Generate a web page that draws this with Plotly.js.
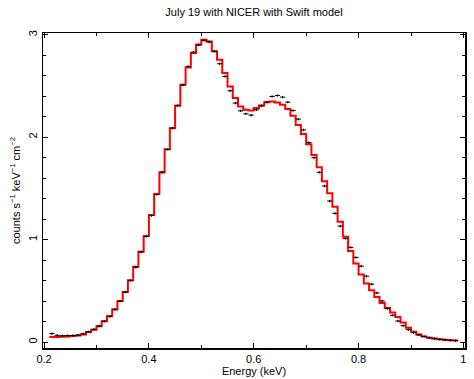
<!DOCTYPE html>
<html>
<head>
<meta charset="utf-8">
<script src="https://cdn.plot.ly/plotly-3.0.1.min.js"></script>
<style>
  html, body { margin: 0; padding: 0; background: #fff; }
  #chart { width: 474px; height: 379px; }
</style>
</head>
<body>
<div id="chart"></div>
<script>
// Bin centres (keV), bin half width
var energy = [0.215,0.225,0.235,0.245,0.255,0.265,0.275,0.285,0.295,0.305,
  0.315,0.325,0.335,0.345,0.355,0.365,0.375,0.385,0.395,0.405,
  0.415,0.425,0.435,0.445,0.455,0.465,0.475,0.485,0.495,0.505,
  0.515,0.525,0.535,0.545,0.555,0.565,0.575,0.585,0.595,0.605,
  0.615,0.625,0.635,0.645,0.655,0.665,0.675,0.685,0.695,0.705,
  0.715,0.725,0.735,0.745,0.755,0.765,0.775,0.785,0.795,0.805,
  0.815,0.825,0.835,0.845,0.855,0.865,0.875,0.885,0.895,0.905,
  0.915,0.925,0.935,0.945,0.955,0.965,0.975,0.985];
var binHalfWidth = 0.005;

// Observed counts s^-1 keV^-1 cm^-2
var dataCounts = [0.082,0.066,0.062,0.063,0.064,0.068,0.080,0.100,0.124,0.156,
  0.203,0.252,0.320,0.398,0.488,0.600,0.730,0.880,1.030,1.235,
  1.440,1.660,1.880,2.090,2.310,2.510,2.690,2.830,2.900,2.945,
  2.930,2.838,2.717,2.593,2.453,2.333,2.257,2.228,2.215,2.267,
  2.306,2.342,2.397,2.407,2.391,2.342,2.260,2.176,2.071,1.947,
  1.800,1.657,1.523,1.377,1.256,1.132,1.011,0.924,0.826,0.741,
  0.643,0.565,0.480,0.401,0.327,0.261,0.205,0.160,0.121,0.092,
  0.070,0.054,0.042,0.033,0.026,0.021,0.017,0.014];
var dataErr = 0.012;

// Folded model (Swift model)
var modelCounts = [0.050,0.050,0.053,0.055,0.058,0.063,0.075,0.098,0.121,0.154,
  0.203,0.251,0.317,0.401,0.489,0.604,0.734,0.881,1.035,1.240,
  1.445,1.654,1.883,2.088,2.306,2.512,2.681,2.822,2.905,2.950,
  2.935,2.838,2.756,2.626,2.495,2.382,2.300,2.267,2.260,2.285,
  2.310,2.342,2.348,2.339,2.316,2.274,2.208,2.120,2.032,1.931,
  1.827,1.706,1.570,1.452,1.321,1.174,1.027,0.890,0.767,0.659,
  0.571,0.506,0.440,0.382,0.333,0.288,0.245,0.190,0.140,0.100,
  0.075,0.055,0.042,0.034,0.027,0.022,0.018,0.015];

var xTickVals = [0.2,0.4,0.6,0.8,1.0];
var xTickText = ['0.2','0.4','0.6','0.8','1'];
var yTickVals = [0,1,2,3];
var yTickText = ['0','1','2','3'];

// build step outline from bin edges
var stepX = energy.map(function(e){ return e - binHalfWidth; });
stepX.push(energy[energy.length-1] + binHalfWidth);
var stepY = modelCounts.slice();
stepY.push(modelCounts[modelCounts.length-1]);

var font = 'Liberation Sans, Arial, Helvetica, sans-serif';

var traces = [
  {
    x: stepX, y: stepY, type: 'scatter', mode: 'lines',
    line: {shape: 'hv', color: '#ff0000', width: 2},
    hoverinfo: 'skip', showlegend: false
  },
  {
    x: energy, y: dataCounts, type: 'scatter', mode: 'markers',
    marker: {size: 1, color: '#000'},
    error_x: {type: 'constant', value: binHalfWidth, color: '#000', thickness: 1, width: 0},
    error_y: {type: 'constant', value: dataErr, color: '#000', thickness: 1, width: 0},
    showlegend: false
  }
];

var axisCommon = {
  showgrid: false, zeroline: false,
  showline: true, linecolor: '#000', linewidth: 1.5, mirror: 'ticks',
  ticks: 'inside', ticklen: 5, tickwidth: 1, tickcolor: '#000',
  tickfont: {family: font, size: 11, color: '#000'}
};

var layout = {
  width: 474, height: 379,
  margin: {l: 43, r: 9, t: 33, b: 31, pad: 0},
  paper_bgcolor: '#fff', plot_bgcolor: '#fff',
  font: {family: font, size: 11, color: '#000'},
  title: {
    text: 'July 19 with NICER with Swift model',
    font: {family: font, size: 11, color: '#000'},
    x: 0.5, xref: 'paper', xanchor: 'center',
    y: 1 - 12/379, yref: 'container', yanchor: 'middle'
  },
  xaxis: Object.assign({}, axisCommon, {
    range: [0.198, 1.003],
    tickmode: 'array', tickvals: xTickVals, ticktext: xTickText,
    minor: {dtick: 0.1, tick0: 0.2, ticks: 'inside', ticklen: 3, tickcolor: '#000', tickwidth: 1, showgrid: false},
    title: {text: 'Energy (keV)', font: {family: font, size: 11, color: '#000'}, standoff: 0}
  }),
  yaxis: Object.assign({}, axisCommon, {
    range: [-0.058, 3.017],
    tickmode: 'array', tickvals: yTickVals, ticktext: yTickText,
    tickangle: -90,
    minor: {dtick: 0.2, tick0: 0, ticks: 'inside', ticklen: 3, tickcolor: '#000', tickwidth: 1, showgrid: false},
    title: {text: 'counts s<sup>\u22121</sup> keV<sup>\u22121</sup> cm<sup>\u22122</sup>', font: {family: font, size: 11, color: '#000'}, standoff: 4}
  })
};

Plotly.newPlot('chart', traces, layout, {displayModeBar: false, staticPlot: true});
</script>
</body>
</html>
